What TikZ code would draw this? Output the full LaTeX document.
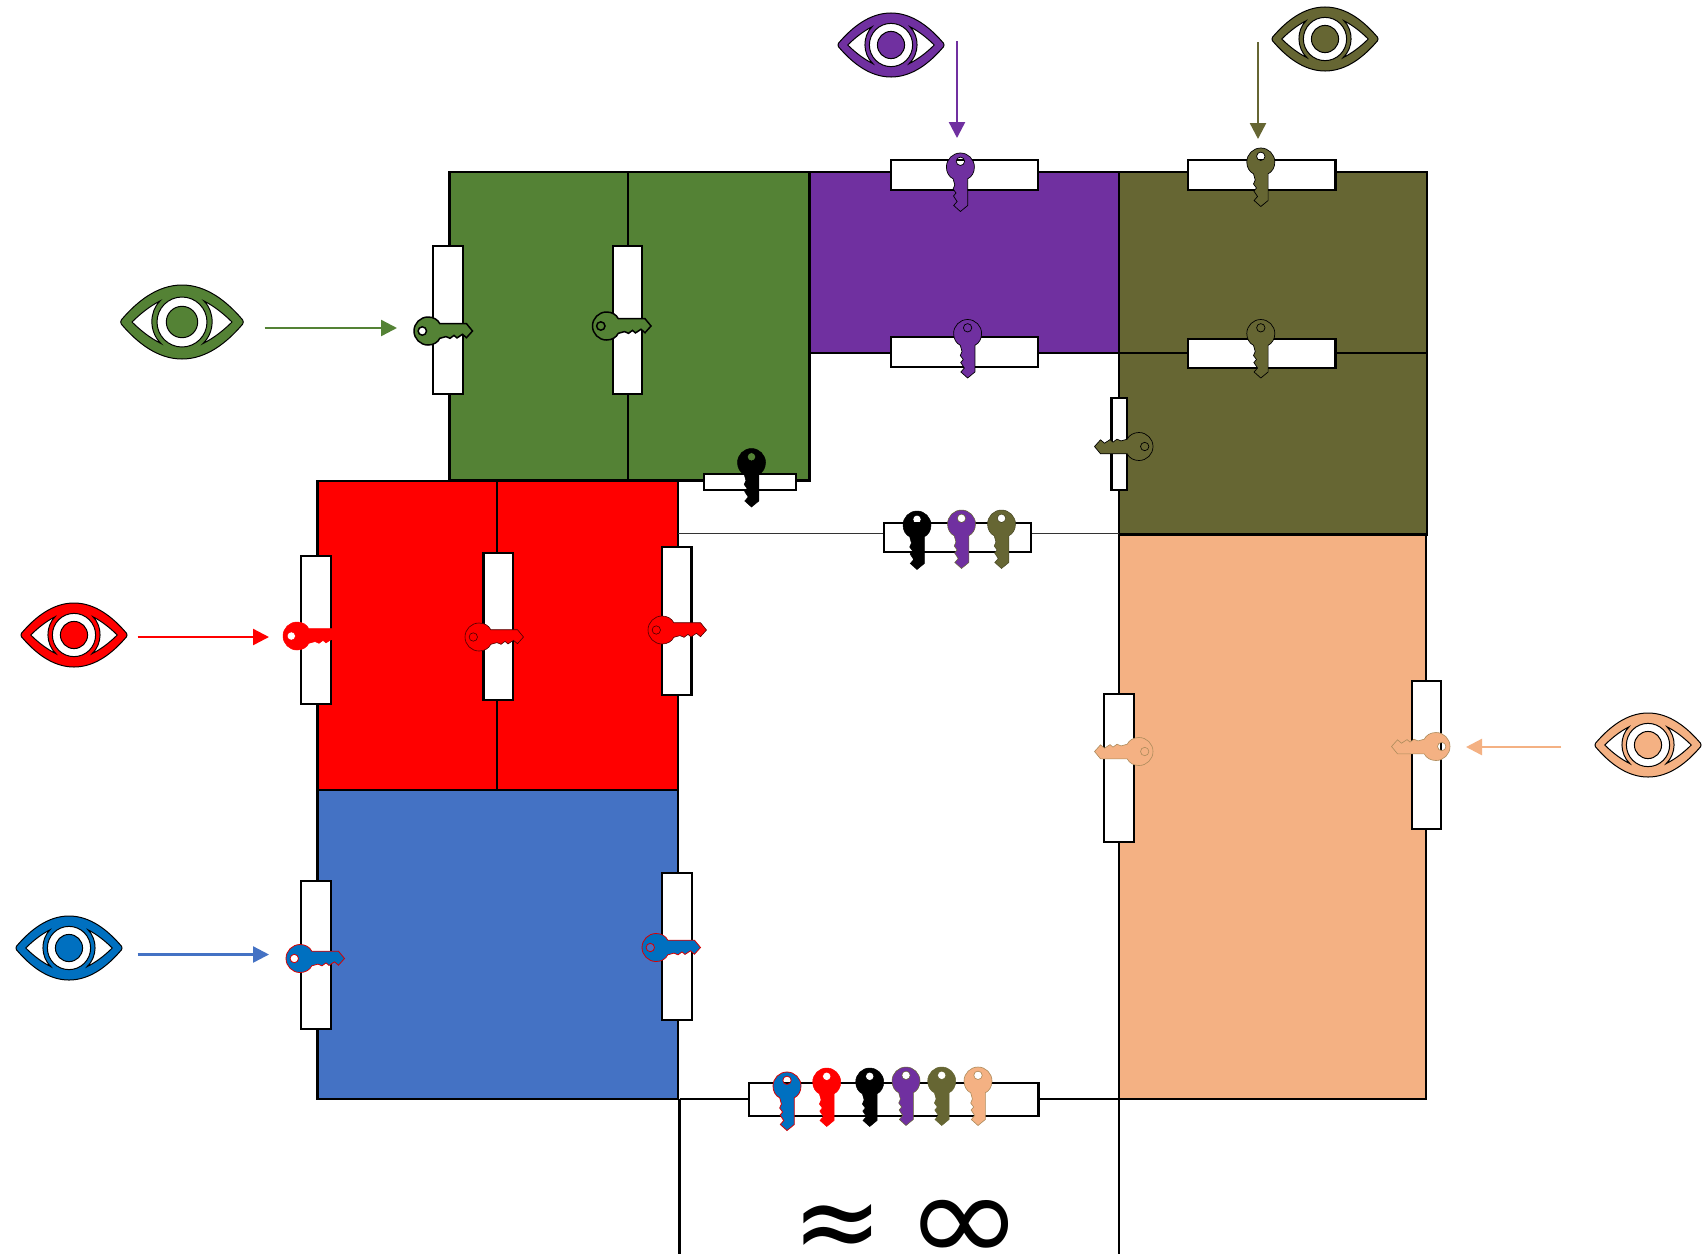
\documentclass[tikz,border=0pt]{standalone}
\usepackage{fontspec}
\setmainfont{DejaVu Sans}
\usetikzlibrary{arrows.meta}
\definecolor{cgreen}{HTML}{548235}
\definecolor{cpurple}{HTML}{7030A0}
\definecolor{colive}{HTML}{666633}
\definecolor{cred}{HTML}{FF0000}
\definecolor{cblue}{HTML}{4472C4}
\definecolor{ckeyblue}{HTML}{0070C0}
\definecolor{cpeach}{HTML}{F4B183}
\tikzset{
  room/.style={draw=black,line width=1.4pt},
  slot/.style={draw=black,fill=white,line width=1.45pt},
  wire/.style={draw=black,line width=1.4pt},
  thinwire/.style={draw=black!80,line width=0.65pt},
  sight/.style={line width=1.2pt,-{Triangle[length=8pt,width=8pt]}},
  bigsym/.style={inner sep=0pt},
  pics/eyeicon/.style={code={
    \path[draw=black,line width=.5pt,fill=#1]
      (-59,-4) .. controls (-45,-20) and (-25,-37) .. (0,-37)
      .. controls (25,-37) and (45,-20) .. (59,-4)
      .. controls (62,-1.5) and (62,1.5) .. (59,4)
      .. controls (45,20) and (25,37) .. (0,37)
      .. controls (-25,37) and (-45,20) .. (-59,4)
      .. controls (-62,1.5) and (-62,-1.5) .. (-59,-4) -- cycle;
    \path[draw=black,line width=.5pt,fill=white]
      (-50,0) .. controls (-42,-8) and (-32,-16) .. (-22,-21)
      .. controls (-33,-10) and (-33,10) .. (-21,21.5)
      .. controls (-32,16) and (-42,8) .. (-50,0) -- cycle;
    \path[draw=black,line width=.5pt,fill=white]
      (50,0) .. controls (42,-8) and (32,-16) .. (22,-21)
      .. controls (33,-10) and (33,10) .. (21,21.5)
      .. controls (32,16) and (42,8) .. (50,0) -- cycle;
    \path[draw=black,line width=.5pt,fill=white] (0,0) circle (25);
    \path[draw=black,line width=.5pt,fill=#1] (0,0) circle (15.7);
  }},
}
% key outline: head circle with a transparent hole, blade with teeth on the local left
\newcommand{\keyat}[5]{%
  \path[shift={(#1,#2)},rotate=#3,even odd rule,fill=#4,#5]
    (7.3,11.8) -- (7.3,38.5) -- (0,44.5) -- (-6.7,38.5) -- (-3.3,34.5) -- (-6.9,29)
    -- (-4.4,26) -- (-7.3,22) -- (-5.6,18) -- (-7.3,11.8)
    .. controls (-11.5,9.8) and (-14,5.3) .. (-14,0)
    .. controls (-14,-7.7) and (-7.7,-14) .. (0,-14)
    .. controls (7.7,-14) and (14,-7.7) .. (14,0)
    .. controls (14,5.3) and (11.5,9.8) .. (7.3,11.8) -- cycle
    (4.2,-5.7) .. controls (4.2,-8) and (2.3,-9.9) .. (0,-9.9)
    .. controls (-2.3,-9.9) and (-4.2,-8) .. (-4.2,-5.7)
    .. controls (-4.2,-3.4) and (-2.3,-1.5) .. (0,-1.5)
    .. controls (2.3,-1.5) and (4.2,-3.4) .. (4.2,-5.7) -- cycle;}
\begin{document}
\begin{tikzpicture}[x=0.5pt,y=-0.5pt]
\useasboundingbox[fill=white] (0,0) rectangle (1707,1254);
% rooms
\draw[room,fill=cgreen] (449.5,172) rectangle (809.5,480.5);
\draw[room] (628,172) -- (628,480.5);
\draw[room,fill=cpurple] (810,172) rectangle (1119,353);
\draw[room,fill=colive] (1119,172) rectangle (1427,534.5);
\draw[room] (1119,353) -- (1427,353);
\draw[room,fill=cred] (317.5,481) rectangle (678,790);
\draw[room] (497,481) -- (497,790);
\draw[room,fill=cblue] (317.5,790) rectangle (678,1099);
\draw[room,fill=cpeach] (1119,535) rectangle (1426,1099);
% corridor lines
\coordinate (midL) at (678,533.5);
\coordinate (midR) at (1119,533.5);
\coordinate (botL) at (679.5,1099);
\coordinate (botR) at (1119,1099);
\coordinate (endL) at (679.5,1254);
\coordinate (endR) at (1119,1254);
\draw[thinwire] (midL) -- (midR);
\draw[wire] (botL) -- (botR);
\draw[wire] (botL) -- (endL);
\draw[wire] (botR) -- (endR);
% slots
\draw[slot] (433,246) rectangle (463,394);
\draw[slot] (613,246) rectangle (642,394);
\draw[slot] (704,474) rectangle (796,490);
\draw[slot] (891,160) rectangle (1038,190);
\draw[slot] (891,337) rectangle (1038,367);
\draw[slot] (1188,160) rectangle (1335.5,190);
\draw[slot] (1188,339) rectangle (1335.5,368);
\draw[slot] (1111.5,398) rectangle (1127,490);
\draw[slot] (884,523) rectangle (1031,552);
\draw[slot] (301,556) rectangle (331,704);
\draw[slot] (483.5,553) rectangle (513,700);
\draw[slot] (662,547) rectangle (691.5,695);
\draw[slot] (301,881) rectangle (331,1029);
\draw[slot] (662,873) rectangle (692,1020);
\draw[slot] (1104,694) rectangle (1134,842);
\draw[slot] (1412,681) rectangle (1441,829);
\draw[slot] (749,1083) rectangle (1038.5,1116);
% keys
\keyat{428}{331}{90}{cgreen}{draw=black,line width=.75pt}
\keyat{606.5}{326}{90}{cgreen}{draw=black,line width=.75pt}
\keyat{751.5}{462.5}{0}{black}{draw=black,line width=.25pt}
\keyat{917}{525}{0}{black}{draw=black,line width=.25pt}
\keyat{961.5}{524}{0}{cpurple}{draw=colive,line width=.25pt}
\keyat{1001.5}{524}{0}{colive}{draw=colive!70!black,line width=.25pt}
\keyat{960.4}{167}{0}{cpurple}{draw=black,line width=.35pt}
\keyat{967.6}{333.5}{0}{cpurple}{draw=black,line width=.35pt}
\keyat{1260.8}{162}{0}{colive}{draw=black,line width=.35pt}
\keyat{1260.8}{333.5}{0}{colive}{draw=black,line width=.35pt}
\keyat{1139}{446.5}{-90}{colive}{draw=black,line width=.35pt}
\keyat{297}{636}{90}{cred}{draw=cred,line width=.25pt}
\keyat{479}{637}{90}{cred}{draw=black!70!cred,line width=.3pt}
\keyat{662}{630}{90}{cred}{draw=black!70!cred,line width=.3pt}
\keyat{300}{958.5}{90}{ckeyblue}{draw=cred!85!black,line width=.4pt}
\keyat{656}{947.5}{90}{ckeyblue}{draw=cred!85!black,line width=.4pt}
\keyat{1139}{751.5}{-90}{cpeach}{draw=cpeach!50!colive,line width=.3pt}
\keyat{1436}{746.5}{-90}{cpeach}{draw=cpeach!50!colive,line width=.3pt}
\keyat{787}{1086}{0}{ckeyblue}{draw=cred!85!black,line width=.4pt}
\keyat{826.7}{1082}{0}{cred}{draw=cred,line width=.25pt}
\keyat{869.7}{1082}{0}{black}{draw=black,line width=.25pt}
\keyat{906}{1081}{0}{cpurple}{draw=colive,line width=.25pt}
\keyat{941.7}{1081}{0}{colive}{draw=colive,line width=.25pt}
\keyat{978}{1081}{0}{cpeach}{draw=cpeach!50!colive,line width=.3pt}
% eyes
\pic at (182,322) {eyeicon=cgreen};
\pic[scale=.865] at (74,635) {eyeicon=cred};
\pic[scale=.865] at (69,948) {eyeicon=ckeyblue};
\pic[scale=.865] at (1648,745) {eyeicon=cpeach};
\pic[scale=.865] at (891,45) {eyeicon=cpurple};
\pic[scale=.865] at (1325,39) {eyeicon=colive};
% sight arrows
\coordinate (gA) at (264.5,328); \coordinate (gB) at (397,328);
\coordinate (rA) at (137.5,637); \coordinate (rB) at (269,637);
\coordinate (bA) at (137.5,954.5); \coordinate (bB) at (269,954.5);
\coordinate (pA) at (1561,747); \coordinate (pB) at (1466,747);
\coordinate (vA) at (957,41); \coordinate (vB) at (957,138);
\coordinate (oA) at (1258,42); \coordinate (oB) at (1258,139);
\draw[sight,cgreen] (gA) -- (gB);
\draw[sight,cred] (rA) -- (rB);
\draw[sight,cblue] (bA) -- (bB);
\draw[sight,cpeach] (pA) -- (pB);
\draw[sight,cpurple] (vA) -- (vB);
\draw[sight,colive] (oA) -- (oB);
% symbols
\node[bigsym,yscale=1.05,font=\fontsize{54}{60}\selectfont] (approxsym) at (838,1232) {≈};
\node[bigsym,yscale=.9,font=\fontsize{71}{75}\selectfont] (infsym) at (965,1231) {∞};
\end{tikzpicture}
\end{document}
